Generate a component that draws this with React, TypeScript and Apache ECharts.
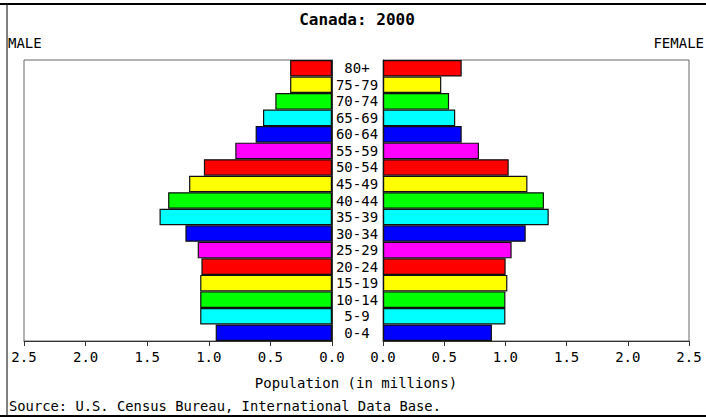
import React, { useEffect, useRef } from "react";
import * as echarts from "echarts";

const ageGroups = ["0-4", "5-9", "10-14", "15-19", "20-24", "25-29", "30-34", "35-39", "40-44", "45-49", "50-54", "55-59", "60-64", "65-69", "70-74", "75-79", "80+"];
const maleValues = [0.944, 1.07, 1.07, 1.07, 1.06, 1.09, 1.19, 1.4, 1.33, 1.16, 1.04, 0.785, 0.62, 0.56, 0.46, 0.34, 0.34];
const femaleValues = [0.89, 1.0, 1.0, 1.016, 1.002, 1.051, 1.166, 1.354, 1.315, 1.18, 1.027, 0.784, 0.643, 0.59, 0.54, 0.476, 0.643];
const barColors = ["#0000ff", "#00ffff", "#00ff00", "#ffff00", "#ff0000", "#ff00ff"];
const axisMax = 2.5;
const axisInterval = 0.5;

const FONT = "'DejaVu Sans Mono', 'Liberation Mono', monospace";

export default function App() {
  const ref = useRef<HTMLDivElement>(null);
  useEffect(() => {
    if (!ref.current) return;
    const chart = echarts.init(ref.current, undefined, { renderer: "svg" });
    const xAxisBase = (gridIndex: number, inverse: boolean) => ({
      type: "value",
      gridIndex,
      inverse,
      min: 0,
      max: axisMax,
      interval: axisInterval,
      axisLine: { show: true, lineStyle: { color: "#333", width: 1 } },
      axisTick: { show: true, length: 5, lineStyle: { color: "#333" } },
      splitLine: { show: false },
      axisLabel: {
        formatter: (v: number) => v.toFixed(1),
        fontFamily: FONT,
        fontSize: 14,
        color: "#000",
        margin: 9,
        showMinLabel: true,
        showMaxLabel: true,
      },
    });
    const barSeries = (name: string, values: number[], idx: number) => ({
      name,
      type: "bar",
      xAxisIndex: idx,
      yAxisIndex: idx,
      barCategoryGap: "0%",
      data: values.map((v, i) => ({
        value: v,
        itemStyle: { color: barColors[i % barColors.length] },
      })),
      itemStyle: { borderColor: "#111", borderWidth: 1.2 },
      emphasis: { disabled: true },
    });
    chart.setOption({
      animation: false,
      backgroundColor: "#fff",
      grid: [
        { left: 24, right: 374, top: 60, bottom: 78, show: true, borderColor: "#666", borderWidth: 1, backgroundColor: "#fff" },
        { left: 383, right: 17, top: 60, bottom: 78, show: true, borderColor: "#666", borderWidth: 1, backgroundColor: "#fff" },
      ],
      xAxis: [xAxisBase(0, true), xAxisBase(1, false)],
      yAxis: [
        {
          type: "category",
          gridIndex: 0,
          data: ageGroups,
          position: "right",
          axisLine: { show: true, lineStyle: { color: "#333" } },
          axisTick: { show: false },
          axisLabel: {
            align: "center",
            margin: 25,
            fontFamily: FONT,
            fontSize: 14,
            color: "#000",
            interval: 0,
          },
        },
        {
          type: "category",
          gridIndex: 1,
          data: ageGroups,
          position: "left",
          axisLine: { show: true, lineStyle: { color: "#333" } },
          axisTick: { show: false },
          axisLabel: { show: false },
        },
      ],
      series: [barSeries("Male", maleValues, 0), barSeries("Female", femaleValues, 1)],
      graphic: [
        { type: "line", shape: { x1: 0, y1: 4, x2: 706, y2: 4 }, style: { stroke: "#000", lineWidth: 2 } },
        { type: "line", shape: { x1: 7, y1: 4, x2: 7, y2: 416 }, style: { stroke: "#000", lineWidth: 1 } },
        { type: "line", shape: { x1: 0, y1: 416, x2: 706, y2: 416 }, style: { stroke: "#000", lineWidth: 2 } },
        {
          type: "text",
          x: 357,
          y: 19,
          style: { text: "Canada: 2000", fontFamily: FONT, fontSize: 16, fontWeight: "bold", fill: "#000", align: "center", verticalAlign: "middle" },
        },
        {
          type: "text",
          x: 8,
          y: 43,
          style: { text: "MALE", fontFamily: FONT, fontSize: 14, fill: "#000", align: "left", verticalAlign: "middle" },
        },
        {
          type: "text",
          x: 704,
          y: 43,
          style: { text: "FEMALE", fontFamily: FONT, fontSize: 14, fill: "#000", align: "right", verticalAlign: "middle" },
        },
        {
          type: "text",
          x: 356,
          y: 383,
          style: { text: "Population (in millions)", fontFamily: FONT, fontSize: 14, fill: "#000", align: "center", verticalAlign: "middle" },
        },
        {
          type: "text",
          x: 9,
          y: 406,
          style: { text: "Source: U.S. Census Bureau, International Data Base.", fontFamily: FONT, fontSize: 13.8, fill: "#000", align: "left", verticalAlign: "middle" },
        },
      ],
    });
    return () => chart.dispose();
  }, []);
  return <div ref={ref} style={{ position: "fixed", left: 0, top: 0, width: 706, height: 419 }} />;
}
